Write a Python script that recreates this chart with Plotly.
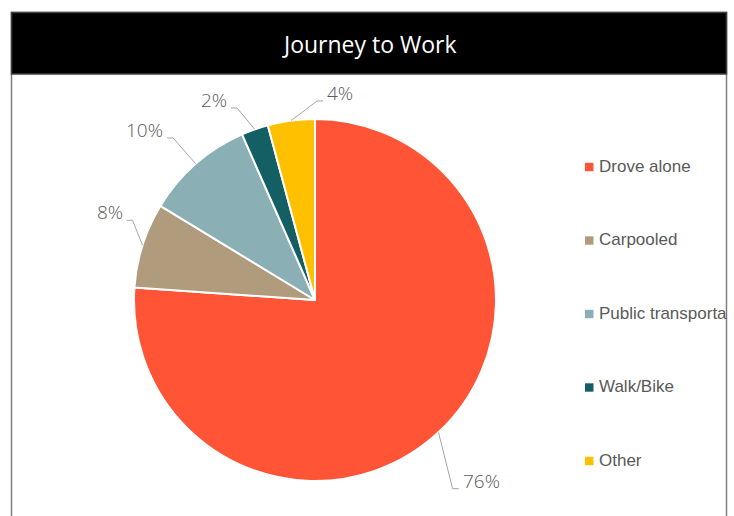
import math
import plotly.graph_objects as go

# ---- data ----
categories = ["Drove alone", "Carpooled", "Public transportation", "Walk/Bike", "Other"]
shares = [76.1, 7.6, 9.7, 2.4, 4.2]
colors = ["#FF5436", "#B09B7D", "#8AAFB4", "#135F63", "#FFC000"]
title_text = "Journey to Work"

# ---- layout constants (pixels) ----
W, H = 734, 516
CX, CY, R = 315, 300, 181


def px(x):
    return x / W


def py(y):
    return 1 - y / H


fig = go.Figure()
fig.add_trace(go.Pie(
    labels=categories, values=shares, sort=False, direction="clockwise",
    rotation=0, textinfo="none", hoverinfo="label+percent",
    marker=dict(colors=colors, line=dict(color="white", width=2)),
    domain=dict(x=[px(CX - R), px(CX + R)], y=[py(CY + R), py(CY - R)]),
    showlegend=False,
))

shapes = []
annotations = []

# frame and title bar
shapes.append(dict(type="rect", xref="paper", yref="paper",
                   x0=px(11.5), x1=px(726.5), y0=py(540), y1=py(12.5),
                   line=dict(color="#808080", width=1.5), fillcolor="white", layer="below"))
shapes.append(dict(type="rect", xref="paper", yref="paper",
                   x0=px(11.5), x1=px(726.5), y0=py(74), y1=py(12.5),
                   line=dict(color="#404040", width=1.5), fillcolor="black", layer="above"))
annotations.append(dict(text=title_text, xref="paper", yref="paper",
                        x=px(369.5), y=py(44), xanchor="center", yanchor="middle",
                        showarrow=False, font=dict(family="Open Sans", size=23, color="white")))

# data labels with leader lines (elbow placement: radius factor, angle in degrees)
total = sum(shares)
elbow_override = {
    "Drove alone": (1.29, 143.9),
    "Carpooled": (1.10, 293.6),
    "Walk/Bike": (1.145, 337.9),
    "Other": (1.1, 0.6),
}
cum = 0.0
for cat, v in zip(categories, shares):
    mid = (cum + v / 2) / total * 360.0
    cum += v
    a = math.radians(mid)
    dx, dy = math.sin(a), -math.cos(a)
    x0, y0 = CX + R * dx, CY + R * dy
    f, ang = elbow_override.get(cat, (1.19, mid))
    b = math.radians(ang)
    ex, ey = CX + f * R * math.sin(b), CY - f * R * math.cos(b)
    side = 1 if math.sin(b) >= 0 else -1
    tx = ex + side * 6
    path = f"M {px(x0)},{py(y0)} L {px(ex)},{py(ey)} L {px(tx)},{py(ey)}"
    shapes.append(dict(type="path", xref="paper", yref="paper", path=path,
                       line=dict(color="#A6A6A6", width=1)))
    annotations.append(dict(text=f"{round(v / total * 100)}%", xref="paper", yref="paper",
                            x=px(tx + side * 2), y=py(ey - 8),
                            xanchor="left" if side > 0 else "right", yanchor="middle",
                            showarrow=False,
                            font=dict(family="Open Sans", size=19, color="#595959", weight=300)))

# custom legend
for i, (cat, col) in enumerate(zip(categories, colors)):
    yc = 167 + 73.5 * i
    shapes.append(dict(type="rect", xref="paper", yref="paper",
                       x0=px(585), x1=px(593.5), y0=py(yc + 4.2), y1=py(yc - 4.2),
                       line=dict(width=0), fillcolor=col))
    annotations.append(dict(text=cat, xref="paper", yref="paper",
                            x=px(598), y=py(yc - 1), xanchor="left", yanchor="middle",
                            width=128, align="left", borderpad=0, showarrow=False,
                            font=dict(family="Liberation Sans", size=17, color="#595959")))

fig.update_layout(
    width=W, height=H, margin=dict(l=0, r=0, t=0, b=0),
    paper_bgcolor="white", plot_bgcolor="white",
    shapes=shapes, annotations=annotations, showlegend=False,
)

fig.write_html("out.html")
